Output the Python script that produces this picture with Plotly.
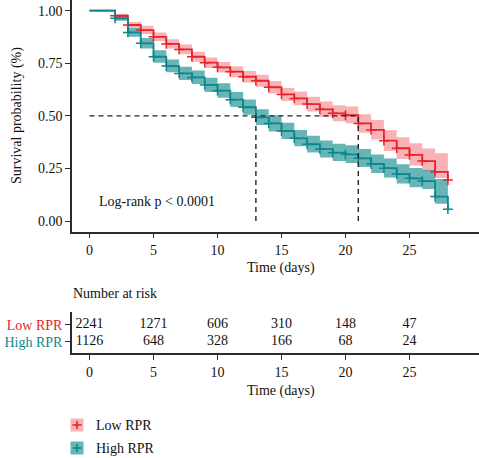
import plotly.graph_objects as go

# ---------------- data ----------------
times = [0, 2, 3, 4, 5, 6, 7, 8, 9, 10, 11, 12, 13, 14, 15, 16, 17, 18, 19, 20,
         21, 22, 23, 24, 25, 26, 27, 28]

low_surv = [1.0, 0.976, 0.932, 0.908, 0.876, 0.842, 0.816, 0.781, 0.753, 0.731,
            0.710, 0.686, 0.667, 0.636, 0.602, 0.583, 0.556, 0.531, 0.512, 0.503,
            0.464, 0.433, 0.382, 0.346, 0.314, 0.285, 0.234, 0.195]
low_upper = [1.0, 0.984, 0.946, 0.928, 0.896, 0.864, 0.839, 0.805, 0.778, 0.756,
             0.736, 0.713, 0.695, 0.666, 0.633, 0.616, 0.591, 0.568, 0.550, 0.545,
             0.508, 0.480, 0.432, 0.398, 0.370, 0.345, 0.322, 0.322]
low_lower = [1.0, 0.968, 0.918, 0.888, 0.856, 0.820, 0.793, 0.757, 0.728, 0.706,
             0.684, 0.659, 0.639, 0.606, 0.571, 0.550, 0.521, 0.494, 0.474, 0.465,
             0.420, 0.387, 0.333, 0.295, 0.264, 0.238, 0.205, 0.205]

high_surv = [1.0, 0.964, 0.897, 0.845, 0.781, 0.737, 0.702, 0.683, 0.647, 0.620,
             0.577, 0.541, 0.493, 0.464, 0.428, 0.393, 0.365, 0.342, 0.325, 0.317,
             0.298, 0.271, 0.251, 0.223, 0.203, 0.190, 0.116, 0.056]
high_upper = [1.0, 0.976, 0.918, 0.870, 0.812, 0.768, 0.734, 0.716, 0.681, 0.655,
              0.613, 0.578, 0.532, 0.503, 0.467, 0.433, 0.405, 0.383, 0.367, 0.360,
              0.342, 0.316, 0.297, 0.270, 0.252, 0.242, 0.200, 0.200]
high_lower = [1.0, 0.952, 0.876, 0.820, 0.752, 0.707, 0.671, 0.651, 0.614, 0.586,
              0.542, 0.505, 0.456, 0.426, 0.390, 0.355, 0.326, 0.302, 0.285, 0.276,
              0.257, 0.228, 0.207, 0.178, 0.160, 0.152, 0.082, 0.082]

median_times = [13, 21]
median_level = 0.5

risk_times = [0, 5, 10, 15, 20, 25]
risk_low = [2241, 1271, 606, 310, 148, 47]
risk_high = [1126, 648, 328, 166, 68, 24]

group_names = ["Low RPR", "High RPR"]
x_ticks = [0, 5, 10, 15, 20, 25]
y_ticks = [0.0, 0.25, 0.5, 0.75, 1.0]
y_tick_labels = ["0.00", "0.25", "0.50", "0.75", "1.00"]

# ---------------- style ----------------
RED = "#E8232A"
TEAL = "#0C878D"
RED_FILL = "rgba(242, 95, 100, 0.48)"
TEAL_FILL = "rgba(12, 135, 141, 0.62)"
FONT = "Liberation Serif"
AX = "#2b2b2b"
W, H = 479, 458
FS = 14

fig = go.Figure()

groups = [
    (group_names[0], low_surv, low_upper, low_lower, RED, RED_FILL),
    (group_names[1], high_surv, high_upper, high_lower, TEAL, TEAL_FILL),
]

# bands
for name, s, up, lo, col, fill in groups:
    band_t = times[1:]
    fig.add_trace(go.Scatter(x=band_t, y=up[1:], mode="lines", line=dict(width=0, shape="hv"),
                             hoverinfo="skip", showlegend=False, xaxis="x", yaxis="y"))
    fig.add_trace(go.Scatter(x=band_t, y=lo[1:], mode="lines", line=dict(width=0, shape="hv"),
                             fill="tonexty", fillcolor=fill, hoverinfo="skip",
                             showlegend=False, xaxis="x", yaxis="y"))

# curves + censor marks
for name, s, up, lo, col, fill in groups:
    fig.add_trace(go.Scatter(x=times, y=s, mode="lines", line=dict(color=col, width=1.8, shape="hv"),
                             name=name, showlegend=False, xaxis="x", yaxis="y"))
    fig.add_trace(go.Scatter(x=times[1:], y=s[1:], mode="markers",
                             marker=dict(symbol="cross-thin", size=7, line=dict(color=col, width=1.5)),
                             showlegend=False, xaxis="x", yaxis="y"))

# median lines
fig.add_trace(go.Scatter(x=[0, max(median_times)], y=[median_level, median_level], mode="lines",
                         line=dict(color="#222222", width=1.4, dash="5px,4px"),
                         showlegend=False, xaxis="x", yaxis="y"))
for mt in median_times:
    fig.add_trace(go.Scatter(x=[mt, mt], y=[0, median_level], mode="lines",
                             line=dict(color="#222222", width=1.4, dash="5px,4px"),
                             showlegend=False, xaxis="x", yaxis="y"))

# risk table
for row, vals, col in [(1, risk_low, RED), (0, risk_high, TEAL)]:
    fig.add_trace(go.Scatter(x=risk_times, y=[row] * len(risk_times), mode="text",
                             text=[str(v) for v in vals],
                             textfont=dict(family=FONT, size=FS, color="#111111"),
                             textposition="middle center", showlegend=False,
                             xaxis="x2", yaxis="y2"))

xr = [-1.367, 30.43]
axis_common = dict(showline=True, linecolor=AX, linewidth=1.5, ticks="outside", ticklen=5,
                   tickcolor=AX, tickwidth=1.3, showgrid=False, zeroline=False,
                   tickfont=dict(family=FONT, size=FS, color="#111111"))

fig.update_layout(
    width=W, height=H,
    margin=dict(l=72, r=0, t=0, b=0),
    plot_bgcolor="white", paper_bgcolor="white",
    showlegend=False,
    xaxis=dict(domain=[0, 1], range=xr, tickvals=x_ticks, anchor="y", **axis_common),
    yaxis=dict(domain=[1 - 231.7 / H, 1], range=[-0.0509, 1.051], tickvals=y_ticks,
               ticktext=y_tick_labels, anchor="x", **axis_common),
    xaxis2=dict(domain=[0, 1], range=xr, tickvals=x_ticks, anchor="y2", **axis_common),
    yaxis2=dict(domain=[1 - 353.3 / H, 1 - 312 / H], range=[-0.695, 1.778], tickvals=[1, 0],
                ticktext=[f'<span style="color:{RED}">{group_names[0]}</span>',
                          f'<span style="color:{TEAL}">{group_names[1]}</span>'],
                anchor="x2", **axis_common),
)

def px_y(py):
    return 1 - py / H

def px_x(pxx):
    return (pxx - 72) / (W - 72)

annos = [
    dict(text="Log-rank p < 0.0001", x=0.56, y=0.092, xref="x", yref="y", xanchor="left",
         yanchor="middle", showarrow=False, font=dict(family=FONT, size=FS, color="#111111")),
    dict(text="Time (days)", x=px_x(281), y=px_y(268), xref="paper", yref="paper",
         xanchor="center", yanchor="middle", showarrow=False,
         font=dict(family=FONT, size=FS, color="#111111")),
    dict(text="Survival probability (%)", x=px_x(17), y=px_y(116), xref="paper", yref="paper",
         xanchor="center", yanchor="middle", textangle=-90, showarrow=False,
         font=dict(family=FONT, size=FS, color="#111111")),
    dict(text="Number at risk", x=px_x(71), y=px_y(293), xref="paper", yref="paper",
         xanchor="left", yanchor="middle", showarrow=False,
         font=dict(family=FONT, size=FS, color="#111111")),
    dict(text="Time (days)", x=px_x(281), y=px_y(391), xref="paper", yref="paper",
         xanchor="center", yanchor="middle", showarrow=False,
         font=dict(family=FONT, size=FS, color="#111111")),
]

shapes = []
legend_items = [(group_names[0], RED, RED_FILL, 425), (group_names[1], TEAL, TEAL_FILL, 448)]
for name, col, fill, cy in legend_items:
    shapes.append(dict(type="rect", xref="paper", yref="paper",
                       x0=px_x(70.5), x1=px_x(83.5), y0=px_y(cy + 6.5), y1=px_y(cy - 6.5),
                       fillcolor=fill, line=dict(width=0)))
    shapes.append(dict(type="line", xref="paper", yref="paper",
                       x0=px_x(72.5), x1=px_x(81.5), y0=px_y(cy), y1=px_y(cy),
                       line=dict(color=col, width=1.6)))
    shapes.append(dict(type="line", xref="paper", yref="paper",
                       x0=px_x(77), x1=px_x(77), y0=px_y(cy + 4), y1=px_y(cy - 4),
                       line=dict(color=col, width=1.6)))
    annos.append(dict(text=name, x=px_x(94), y=px_y(cy), xref="paper", yref="paper",
                      xanchor="left", yanchor="middle", showarrow=False,
                      font=dict(family=FONT, size=FS, color="#111111")))

fig.update_layout(annotations=annos, shapes=shapes)

fig.write_html("out.html", config={"displayModeBar": False},
               post_script="document.body.style.margin='0';document.body.style.overflow='hidden';")
